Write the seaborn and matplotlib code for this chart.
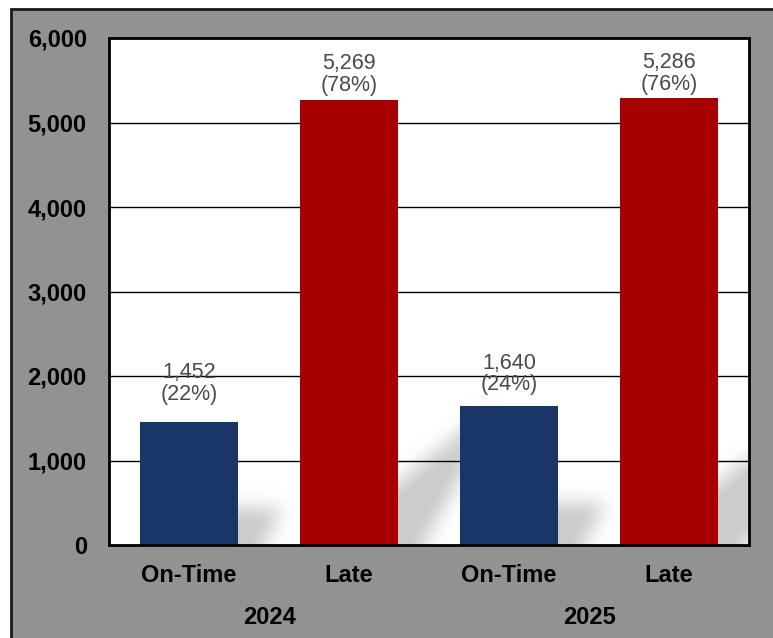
import numpy as np
import pandas as pd
import matplotlib
matplotlib.use("Agg")
import matplotlib.pyplot as plt
from matplotlib.path import Path
from matplotlib.patches import Rectangle
import matplotlib.transforms as mtransforms
import seaborn as sns

# ---- data ----
years = ["2024", "2024", "2025", "2025"]
statuses = ["On-Time", "Late", "On-Time", "Late"]
counts = [1452, 5269, 1640, 5286]
percents = ["22%", "78%", "24%", "76%"]
year_labels = ["2024", "2025"]
y_ticks = [0, 1000, 2000, 3000, 4000, 5000, 6000]

# label gap above each bar (points) - layout only
label_gaps = [12.5, 3, 8, 2.5]

NAVY = "#1a3568"
RED = "#a60000"
BG = "#929292"

sns.set_theme(style="white")
plt.rcParams["font.family"] = ["Liberation Sans", "DejaVu Sans"]

W, H = 773, 638
fig = plt.figure(figsize=(W / 100, H / 100), dpi=100, facecolor="white")

# grey panel with dark border
fig.patches.append(Rectangle((10.5 / W, -0.01), 1.0, 1 - 9 / H + 0.01,
                             transform=fig.transFigure, facecolor=BG,
                             edgecolor="#1a1a1a", linewidth=2, zorder=-10))

ax_l, ax_r, ax_t, ax_b = 109, 749, 38, 545
ax = fig.add_axes([ax_l / W, 1 - ax_b / H, (ax_r - ax_l) / W, (ax_b - ax_t) / H])
ax.set_zorder(5)
ax.set_facecolor("white")

df = pd.DataFrame({
    "key": [f"{y} {s}" for y, s in zip(years, statuses)],
    "status": statuses,
    "count": counts,
})
bar_w = 0.6125
sns.barplot(data=df, x="key", y="count", hue="status",
            palette={"On-Time": NAVY, "Late": RED}, dodge=False,
            width=bar_w, legend=False, ax=ax, saturation=1, zorder=2,
            linewidth=0, edgecolor="none")

ax.set_xlim(-0.5, 3.5)
ax.set_ylim(0, 6000)

# ---- soft perspective shadows ----
pxw, pxh = ax_r - ax_l, ax_b - ax_t
sx = pxw / 4.0
sy = pxh / 6000.0
gx, gy = np.meshgrid(np.arange(pxw) + 0.5, np.arange(pxh) + 0.5)
pts = np.column_stack([gx.ravel(), gy.ravel()])
mask = np.zeros(gx.shape)
for i, c in enumerate(counts):
    x0 = (i - bar_w / 2 + 0.5) * sx
    x1 = (i + bar_w / 2 + 0.5) * sx
    hp = c * sy
    Hs = 0.3 * hp
    poly = Path([(x0 + 20, 0), (x1 + 25, 0),
                 (x1 + 25 + 0.55 * Hs, Hs), (x0 + 20 + 1.25 * Hs, Hs)])
    mask = np.maximum(mask, poly.contains_points(pts).reshape(gx.shape).astype(float))
sig = 9.0
k = np.arange(-30, 31)
kern = np.exp(-k ** 2 / (2 * sig ** 2))
kern /= kern.sum()
pad = 35
mp = np.pad(mask, pad, mode="edge")
mp = np.apply_along_axis(lambda r: np.convolve(r, kern, mode="same"), 1, mp)
mp = np.apply_along_axis(lambda r: np.convolve(r, kern, mode="same"), 0, mp)
mask = mp[pad:-pad, pad:-pad]
rgba = np.zeros(mask.shape + (4,))
rgba[..., :3] = 0.80
rgba[..., 3] = np.clip(mask * 1.05, 0, 1)
ax.imshow(rgba, extent=(-0.5, 3.5, 0, 6000), origin="lower",
          aspect="auto", zorder=0.5, interpolation="bilinear")
ax.set_xlim(-0.5, 3.5)
ax.set_ylim(0, 6000)

# gridlines
for yv in y_ticks[1:-1]:
    ax.axhline(yv, color="black", linewidth=1.0, zorder=0.8)

for s in ax.spines.values():
    s.set_visible(True)
    s.set_color("black")
    s.set_linewidth(2)
    s.set_zorder(5)

ax.set_yticks(y_ticks)
ax.set_yticklabels([f"{v:,}" for v in y_ticks], fontsize=17, fontweight="bold", color="black")
ax.set_xticks(range(4))
ax.set_xticklabels(statuses, fontsize=17, fontweight="bold", color="black")
ax.tick_params(axis="y", length=0, pad=16)
ax.tick_params(axis="x", length=0, pad=14)
ax.set_xlabel("")
ax.set_ylabel("")

# value labels
for i, (c, p) in enumerate(zip(counts, percents)):
    ax.annotate(f"{c:,}\n({p})", xy=(i, c), xytext=(0, label_gaps[i]),
                textcoords="offset points", ha="center", va="bottom",
                fontsize=15.5, color="#4a4a4a", linespacing=1.05, zorder=6)

# year labels
trans = mtransforms.blended_transform_factory(ax.transData, ax.transAxes)
for j, yl in enumerate(year_labels):
    ax.text(0.5 + 2 * j, -(617 - ax_b) / pxh, yl, transform=trans, ha="center",
            va="center", fontsize=17, fontweight="bold", color="black")

fig.savefig("out.png", dpi=100, facecolor="white")
